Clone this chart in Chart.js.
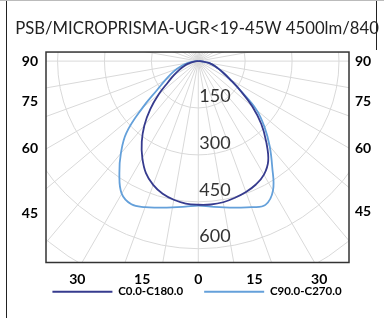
<!DOCTYPE html>
<html><head><meta charset="utf-8">
<script src="https://cdn.jsdelivr.net/npm/chart.js@4.4.0/dist/chart.umd.min.js"></script>
<style>
html,body{margin:0;padding:0;background:#fff;}
#wrap{position:relative;width:384px;height:318px;}
</style></head><body>
<div id="wrap"><canvas id="c" width="384" height="318"></canvas></div>
<script>
// ---- data (cd/klm) ----
const chartTitle = 'PSB/MICROPRISMA-UGR<19-45W 4500lm/840';
const seriesNames = ['C0.0-C180.0', 'C90.0-C270.0'];
const gammaAngles = [0,5,10,15,20,25,30,35,40,45,50,55,60,65,70,75,80,85,90];
const c0   = [460,461,459,453,446,436,420,390,338,285,225,164,118,88,66,50,34,16,0];
const c180 = [460,458,451,440,422,396,358,315,268,217,165,118,90,68,50,37,22,10,0];
const c90  = [463,468,476,486,498,508,478,412,355,300,243,165,118,88,66,50,34,16,0];
const c270 = [463,468,476,486,498,506,490,440,385,325,233,160,122,95,72,52,33,16,0];
const ringValues = [150,300,450,600];
const sideTickAngles = [90,75,60,45];
const bottomTickAngles = [-30,-15,0,15,30];

// ---- layout/styles ----
const X_MIN = -487, X_MAX = 482, Y_MIN = -645, Y_MAX = 29;
const LABEL_ROW = 670;   // projection depth of bottom angle labels (cd units)
const DARK = '#363b8e', LIGHT = '#64a0da';
const FONT = 'Lato, "Open Sans", sans-serif';

function planePoints(leftVals, rightVals) {
  const pts = [];
  for (let i = gammaAngles.length - 1; i >= 0; i--) {
    const g = gammaAngles[i] * Math.PI / 180;
    pts.push({x: -leftVals[i] * Math.sin(g), y: -leftVals[i] * Math.cos(g)});
  }
  for (let i = 1; i < gammaAngles.length; i++) {
    const g = gammaAngles[i] * Math.PI / 180;
    pts.push({x: rightVals[i] * Math.sin(g), y: -rightVals[i] * Math.cos(g)});
  }
  return pts;
}

const polarGrid = {
  id: 'polarGrid',
  beforeDatasetsDraw(chart) {
    const {ctx, chartArea: a, scales: {x, y}} = chart;
    const cx = x.getPixelForValue(0), cy = y.getPixelForValue(0);
    const unit = x.getPixelForValue(150) - cx;
    ctx.save();
    ctx.beginPath(); ctx.rect(a.left, a.top, a.right - a.left, a.bottom - a.top); ctx.clip();
    ctx.strokeStyle = '#d9d9d9'; ctx.lineWidth = 1;
    for (let k = 1; k <= 8; k++) {
      ctx.beginPath(); ctx.arc(cx, cy, unit * k, 0, Math.PI * 2); ctx.stroke();
    }
    for (let d = 0; d < 360; d += 10) {
      const t = d * Math.PI / 180;
      ctx.beginPath(); ctx.moveTo(cx, cy);
      ctx.lineTo(cx + Math.sin(t) * 1000, cy + Math.cos(t) * 1000); ctx.stroke();
    }
    ctx.fillStyle = '#333'; ctx.font = '18px ' + FONT;
    ctx.textAlign = 'left'; ctx.textBaseline = 'alphabetic';
    ringValues.forEach(v => {
      ctx.fillText(String(v), cx + 1, y.getPixelForValue(-v) - 6);
    });
    ctx.restore();
  },
  afterDraw(chart) {
    const {ctx, chartArea: a} = chart;
    ctx.save();
    ctx.strokeStyle = '#333'; ctx.lineWidth = 1.5;
    ctx.strokeRect(a.left, a.top, a.right - a.left, a.bottom - a.top);
    ctx.strokeStyle = '#222'; ctx.lineWidth = 1;
    ctx.beginPath(); ctx.moveTo(6.5, 0); ctx.lineTo(6.5, 318); ctx.stroke();
    ctx.beginPath(); ctx.moveTo(376.5, 0); ctx.lineTo(376.5, 50); ctx.stroke();
    ctx.strokeStyle = '#bbb';
    ctx.beginPath(); ctx.moveTo(0, 0.5); ctx.lineTo(384, 0.5); ctx.stroke();
    ctx.restore();
  }
};

const tickFont = {family: FONT, size: 14, weight: 'bold'};
function sideTicks(halfW) {
  return sideTickAngles.map(a => ({value: a === 90 ? 0 : -halfW / Math.tan(a * Math.PI / 180)}));
}
const noLabelClip = s => { s._computeLabelArea = () => undefined; };

new Chart(document.getElementById('c'), {
  type: 'scatter',
  data: {
    datasets: [
      {label: seriesNames[0], data: planePoints(c180, c0), borderColor: DARK, backgroundColor: DARK},
      {label: seriesNames[1], data: planePoints(c270, c90), borderColor: LIGHT, backgroundColor: LIGHT}
    ].map(d => Object.assign(d, {showLine: true, pointRadius: 0, borderWidth: 1.8, tension: 0.4, fill: false, yAxisID: 'y'}))
  },
  options: {
    responsive: false, animation: false,
    layout: {padding: {left: 10, right: 0, top: 0, bottom: 10.5}},
    scales: {
      x: {
        type: 'linear', min: X_MIN, max: X_MAX,
        grid: {display: false, drawTicks: false}, border: {display: false},
        afterBuildTicks: s => { s.ticks = bottomTickAngles.map(a => ({value: LABEL_ROW * Math.tan(a * Math.PI / 180)})); },
        afterFit: s => { s.height = 2.5; noLabelClip(s); },
        ticks: {autoSkip: false, maxRotation: 0, padding: 8.6, color: '#000', font: tickFont,
                callback: (v, i) => String(Math.abs(bottomTickAngles[i]))}
      },
      y: {
        type: 'linear', position: 'left', min: Y_MIN, max: Y_MAX,
        grid: {display: false, drawTicks: false}, border: {display: false},
        afterBuildTicks: s => { s.ticks = sideTicks(-X_MIN); },
        afterFit: s => { s.width = 36; },
        ticks: {autoSkip: false, padding: 8, color: '#000', font: tickFont,
                callback: (v, i) => String(sideTickAngles[i])}
      },
      y2: {
        type: 'linear', position: 'right', min: Y_MIN, max: Y_MAX,
        grid: {display: false, drawTicks: false}, border: {display: false},
        afterBuildTicks: s => { s.ticks = sideTicks(X_MAX); },
        afterFit: s => { s.width = 35; },
        ticks: {autoSkip: false, padding: 6, color: '#000', font: tickFont,
                callback: (v, i) => String(sideTickAngles[i])}
      }
    },
    plugins: {
      title: {display: true, text: chartTitle, color: '#222',
              font: {family: FONT, size: 16.7, weight: 'normal'}, padding: {top: 19, bottom: 13}},
      legend: {position: 'bottom',
        labels: {boxWidth: 60, boxHeight: 2, padding: 21, color: '#000',
                 font: {family: FONT, size: 11.5, weight: 'bold'},
                 generateLabels: chart => Chart.defaults.plugins.legend.labels.generateLabels(chart)
                   .map(l => Object.assign(l, {lineWidth: 0, fillStyle: l.strokeStyle}))}},
      tooltip: {enabled: false}
    }
  },
  plugins: [polarGrid]
});
</script>
</body></html>
